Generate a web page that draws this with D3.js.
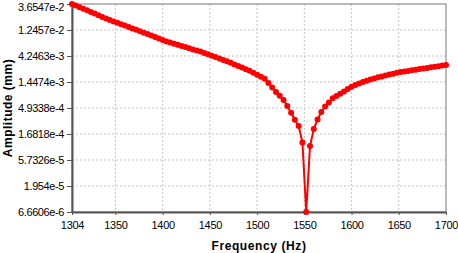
<!DOCTYPE html>
<html>
<head>
<meta charset="utf-8">
<script src="https://cdn.jsdelivr.net/npm/d3@7"></script>
<style>
  body { margin: 0; background: #fff; }
  text { font-family: "Liberation Sans", Arial, sans-serif; }
</style>
</head>
<body>
<div id="wrapper"></div>
<script>
// DATA
// frequency step is 4 Hz, 1304 -> 1700
const frequencies = d3.range(100).map(i => 1304 + 4 * i)

// amplitude (mm)
const amplitudes = [
  3.6547e-2, 3.420e-2, 3.201e-2, 3.008e-2, 2.815e-2, 2.634e-2, 2.456e-2, 2.289e-2, 2.142e-2, 2.013e-2,
  1.892e-2, 1.778e-2, 1.678e-2, 1.583e-2, 1.494e-2, 1.410e-2, 1.331e-2, 1.256e-2, 1.180e-2, 1.114e-2,
  1.051e-2, 9.918e-3, 9.320e-3, 8.724e-3, 8.199e-3, 7.769e-3, 7.393e-3, 7.063e-3, 6.748e-3, 6.421e-3,
  6.135e-3, 5.861e-3, 5.578e-3, 5.329e-3, 5.092e-3, 4.805e-3, 4.553e-3, 4.297e-3, 4.055e-3, 3.827e-3,
  3.611e-3, 3.408e-3, 3.203e-3, 2.997e-3, 2.805e-3, 2.625e-3, 2.457e-3, 2.300e-3, 2.117e-3, 1.949e-3,
  1.794e-3, 1.651e-3, 1.382e-3, 1.147e-3, 9.561e-4, 8.169e-4, 6.864e-4, 5.377e-4, 4.041e-4, 3.024e-4,
  2.339e-4, 1.181e-4, 6.6606e-6, 1.022e-4, 2.066e-4, 3.062e-4, 4.177e-4, 5.245e-4, 6.216e-4, 7.366e-4,
  8.101e-4, 8.910e-4, 9.802e-4, 1.082e-3, 1.186e-3, 1.272e-3, 1.365e-3, 1.440e-3, 1.520e-3, 1.597e-3,
  1.679e-3, 1.757e-3, 1.824e-3, 1.893e-3, 1.965e-3, 2.039e-3, 2.117e-3, 2.180e-3, 2.235e-3, 2.291e-3,
  2.349e-3, 2.407e-3, 2.467e-3, 2.529e-3, 2.593e-3, 2.658e-3, 2.725e-3, 2.782e-3, 2.852e-3, 2.924e-3
]

// tick labels
const xTicks = [1304, 1350, 1400, 1450, 1500, 1550, 1600, 1650, 1700]
const yTicks = [3.6547e-2, 1.2457e-2, 4.2463e-3, 1.4474e-3, 4.9338e-4, 1.6818e-4, 5.7326e-5, 1.954e-5, 6.6606e-6]
const yTickLabels = ["3.6547e-2", "1.2457e-2", "4.2463e-3", "1.4474e-3", "4.9338e-4", "1.6818e-4", "5.7326e-5", "1.954e-5", "6.6606e-6"]

const dataset = frequencies.map((f, i) => ({ f, a: amplitudes[i] }))

// Dimensions
let dimensions = {
  width: 458,
  height: 253,
  margin: { top: 4, right: 12, bottom: 41, left: 72 }
}
dimensions.boundedWidth = dimensions.width - dimensions.margin.left - dimensions.margin.right
dimensions.boundedHeight = dimensions.height - dimensions.margin.top - dimensions.margin.bottom

// SCALES
const xScale = d3.scaleLinear()
  .domain([1304, 1700])
  .range([0, dimensions.boundedWidth])

const yScale = d3.scaleLog()
  .domain([6.6606e-6, 3.6547e-2])
  .range([dimensions.boundedHeight, 0])

// DRAW CANVAS
const wrapper = d3.select("#wrapper")
  .append("svg")
  .attr("width", dimensions.width)
  .attr("height", dimensions.height)

const bounds = wrapper.append("g")
  .attr("transform", `translate(${dimensions.margin.left}, ${dimensions.margin.top})`)

// GRID
bounds.append("g")
  .selectAll("line")
  .data(xTicks.slice(1, -1))
  .join("line")
  .attr("x1", d => xScale(d)).attr("x2", d => xScale(d))
  .attr("y1", 0).attr("y2", dimensions.boundedHeight)
  .attr("stroke", "#c4c4c4")
  .attr("stroke-dasharray", "2,2")

bounds.append("g")
  .selectAll("line")
  .data(yTicks.slice(1, -1))
  .join("line")
  .attr("x1", 0).attr("x2", dimensions.boundedWidth)
  .attr("y1", d => yScale(d)).attr("y2", d => yScale(d))
  .attr("stroke", "#c4c4c4")
  .attr("stroke-dasharray", "2,2")

// frame
bounds.append("rect")
  .attr("width", dimensions.boundedWidth)
  .attr("height", dimensions.boundedHeight)
  .attr("fill", "none")
  .attr("stroke", "#777")
  .attr("stroke-width", 1)

// AXES
const xAxis = bounds.append("g")
  .attr("transform", `translate(0, ${dimensions.boundedHeight})`)
  .call(d3.axisBottom(xScale).tickValues(xTicks).tickFormat(d3.format("d")).tickSize(3).tickSizeOuter(0))

const yAxis = bounds.append("g")
  .call(d3.axisLeft(yScale).tickValues(yTicks).tickFormat((d, i) => yTickLabels[i]).tickSize(5).tickSizeOuter(0))

xAxis.select(".domain").attr("stroke", "#555").attr("stroke-width", 2)
yAxis.select(".domain").attr("stroke", "#555").attr("stroke-width", 2)
xAxis.selectAll(".tick line").attr("stroke", "#555")
yAxis.selectAll(".tick line").attr("stroke", "#555")
xAxis.selectAll("text")
  .attr("font-size", 11).attr("fill", "#000").attr("dy", "1.0em")
  .style("font-family", "'Liberation Sans', Arial, sans-serif")
  .style("letter-spacing", "-0.3px")
yAxis.selectAll("text")
  .attr("font-size", 11).attr("fill", "#000").attr("x", -8)
  .attr("dy", (d, i) => i === 0 ? "0.62em" : "0.32em")
  .style("font-family", "'Liberation Sans', Arial, sans-serif")
  .style("letter-spacing", "-0.4px")

// LINE + MARKERS
const lineGenerator = d3.line()
  .x(d => xScale(d.f))
  .y(d => yScale(d.a))

bounds.append("path")
  .datum(dataset)
  .attr("d", lineGenerator)
  .attr("fill", "none")
  .attr("stroke", "#ff0000")
  .attr("stroke-width", 2)

bounds.append("g")
  .selectAll("circle")
  .data(dataset)
  .join("circle")
  .attr("cx", d => xScale(d.f))
  .attr("cy", d => yScale(d.a))
  .attr("r", 3)
  .attr("fill", "#ff0000")

// LABELS
wrapper.append("text")
  .attr("x", dimensions.margin.left + dimensions.boundedWidth / 2)
  .attr("y", 250)
  .attr("text-anchor", "middle")
  .attr("font-size", 12)
  .attr("font-weight", "bold")
  .style("letter-spacing", "0.6px")
  .text("Frequency (Hz)")

wrapper.append("text")
  .attr("transform", `translate(12, ${dimensions.margin.top + dimensions.boundedHeight / 2}) rotate(-90)`)
  .attr("text-anchor", "middle")
  .attr("font-size", 12)
  .attr("font-weight", "bold")
  .style("letter-spacing", "0.5px")
  .text("Amplitude (mm)")
</script>
</body>
</html>
